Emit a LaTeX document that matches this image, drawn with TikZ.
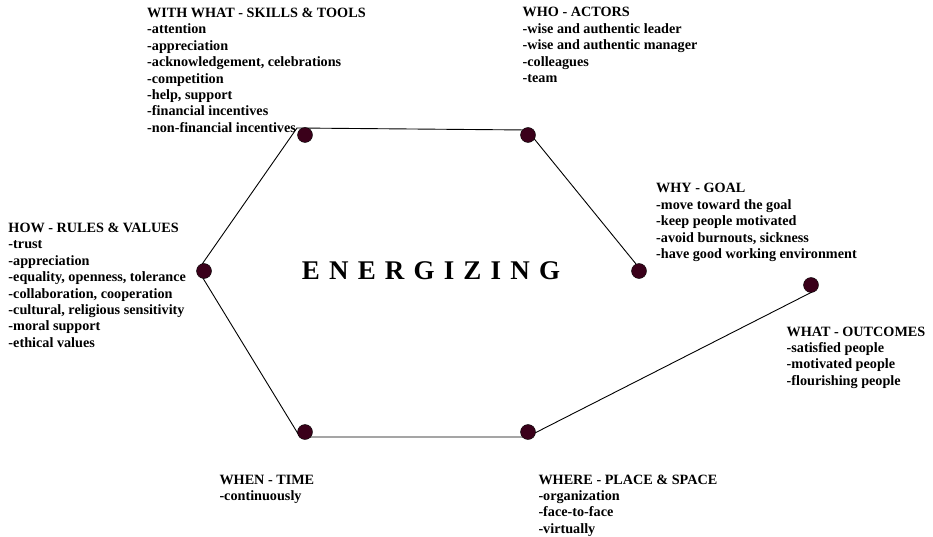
\documentclass[tikz,border=0pt]{standalone}
\usepackage{fontspec}
\setmainfont{Liberation Serif}
\definecolor{dotred}{RGB}{58,0,26}
\begin{document}
\begin{tikzpicture}[
    x=1pt, y=-1pt,
    every node/.style={font=\fontsize{14.2}{16.4}\selectfont\bfseries},
    dot/.style={circle,draw=black,line width=.4pt,fill=dotred,
        minimum size=15pt,inner sep=0pt},
    block/.style={anchor=base west,align=left,inner sep=0pt},
    edge/.style={line width=.9pt}]
    \useasboundingbox (0,0) rectangle (933,537);

    % Corners of the open outline.
    \coordinate (g) at (198,270);
    \coordinate (a) at (297,128);
    \coordinate (b) at (527,130);
    \coordinate (c) at (636,264);
    \coordinate (f) at (300,437);
    \coordinate (e) at (527,437);
    \coordinate (d) at (812,292);
    \draw[edge] (c) -- (b) -- (a) -- (g) -- (f) -- (e) -- (d);

    % Dots.
    \node[dot] (dotwith)  at (305,135) {};
    \node[dot] (dotwho)   at (528,135) {};
    \node[dot] (dotwhy)   at (639,271) {};
    \node[dot] (dotwhat)  at (811,285) {};
    \node[dot] (dotwhere) at (528,432) {};
    \node[dot] (dotwhen)  at (305,432) {};
    \node[dot] (dothow)   at (204,271) {};

    % Centre word.
    \node[font=\fontsize{27}{30}\selectfont\bfseries\addfontfeature{LetterSpace=34},
        anchor=base] (title) at (431,279) {ENERGIZING};

    % Text blocks (placed at the baseline of their last line).
    \node[block] (with) at (147,132.3) {WITH WHAT - SKILLS \& TOOLS\\
        -attention\\-appreciation\\-acknowledgement, celebrations\\
        -competition\\-help, support\\-financial incentives\\
        -non-financial incentives};
    \node[block] (who) at (522.5,82.6) {WHO - ACTORS\\
        -wise and authentic leader\\-wise and authentic manager\\
        -colleagues\\-team};
    \node[block] (why) at (656,258.6) {WHY - GOAL\\
        -move toward the goal\\-keep people motivated\\
        -avoid burnouts, sickness\\-have good working environment};
    \node[block] (how) at (8.3,347.3) {HOW - RULES \& VALUES\\
        -trust\\-appreciation\\-equality, openness, tolerance\\
        -collaboration, cooperation\\-cultural, religious sensitivity\\
        -moral support\\-ethical values};
    \node[block] (what) at (786.5,385.2) {WHAT - OUTCOMES\\
        -satisfied people\\-motivated people\\-flourishing people};
    \node[block] (when) at (219.3,500.4) {WHEN - TIME\\-continuously};
    \node[block] (where) at (538.3,533.2) {WHERE - PLACE \& SPACE\\
        -organization\\-face-to-face\\-virtually};
\end{tikzpicture}
\end{document}
